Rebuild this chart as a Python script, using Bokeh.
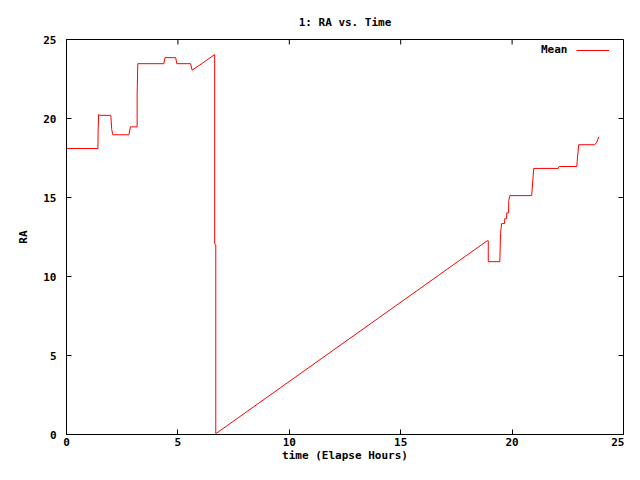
import math
from bokeh.plotting import figure
from bokeh.models import Range1d, FixedTicker, Legend, LegendItem, ColumnDataSource
from bokeh.embed import file_html
from bokeh.resources import INLINE

# Data
time_h = [0.0, 1.41, 1.42, 1.44, 1.50, 1.99, 2.03, 2.08, 2.80, 2.87, 3.17, 3.17, 3.20,
          4.37, 4.42, 4.90, 4.95, 5.57, 5.64, 6.10, 6.64, 6.65, 6.65, 6.70, 6.70,
          18.88, 18.93, 18.93, 19.45, 19.48, 19.53, 19.66, 19.67, 19.75, 19.76, 19.84,
          19.85, 19.90, 20.88, 20.97, 22.07, 22.11, 22.90, 22.99, 23.71, 23.80, 23.89]
ra = [18.10, 18.10, 19.20, 20.25, 20.20, 20.20, 19.30, 18.97, 18.97, 19.47, 19.47, 21.50, 23.47,
      23.47, 23.85, 23.85, 23.47, 23.47, 23.06, 23.50, 24.04, 24.04, 12.05, 12.00, 0.05,
      12.26, 12.26, 10.94, 10.94, 12.72, 13.35, 13.35, 13.66, 13.66, 14.03, 14.03,
      14.81, 15.12, 15.12, 16.84, 16.84, 16.96, 16.96, 18.34, 18.34, 18.50, 18.84]
x_ticks = [0, 5, 10, 15, 20, 25]
y_ticks = [0, 5, 10, 15, 20, 25]
x_max = 25
y_max = 25

FONT = "DejaVu Sans Mono"
FS = "11px"

p = figure(width=624, height=464, output_backend="svg", toolbar_location=None,
           x_range=Range1d(0, x_max), y_range=Range1d(0, y_max),
           min_border_left=66, min_border_right=1, min_border_top=39, min_border_bottom=29,
           title="1: RA vs. Time")
p.background_fill_color = "white"
p.border_fill_color = "white"
p.outline_line_color = "black"
p.outline_line_width = 1
p.grid.visible = False

p.title.align = "center"
p.title.text_font = FONT
p.title.text_font_size = FS
p.title.text_font_style = "bold"
p.title.text_color = "black"
p.title.standoff = 21

for ax, ticks in ((p.xaxis[0], x_ticks), (p.yaxis[0], y_ticks)):
    ax.ticker = FixedTicker(ticks=ticks)
    ax.major_tick_in = 5
    ax.major_tick_out = 0
    ax.minor_tick_line_color = None
    ax.axis_line_color = "black"
    ax.major_tick_line_color = "black"
    ax.major_label_text_font = FONT
    ax.major_label_text_font_size = FS
    ax.major_label_text_font_style = "bold"
    ax.major_label_text_color = "black"
    ax.axis_label_text_font = FONT
    ax.axis_label_text_font_size = FS
    ax.axis_label_text_font_style = "bold"
    ax.axis_label_text_color = "black"

p.xaxis[0].axis_label = "time (Elapse Hours)"
p.xaxis[0].major_label_standoff = 3
p.xaxis[0].axis_label_standoff = 0

p.yaxis[0].axis_label = "RA"
p.yaxis[0].major_label_standoff = 10
p.yaxis[0].axis_label_standoff = 10

# mirrored tick marks on the top and right edges of the frame
p.ray(x=x_ticks, y=[y_max] * len(x_ticks), length=5, length_units="screen",
      angle=-math.pi / 2, line_color="black", line_width=1)
p.ray(x=[x_max] * len(y_ticks), y=y_ticks, length=5, length_units="screen",
      angle=math.pi, line_color="black", line_width=1)

src = ColumnDataSource(data=dict(t=time_h, ra=ra))
r = p.line("t", "ra", source=src, line_color="#ff0000", line_width=1)

common = dict(border_line_color=None, background_fill_alpha=0, padding=0, margin=0,
              glyph_height=12, label_height=12, label_standoff=0,
              label_text_font=FONT, label_text_font_size=FS, label_text_font_style="bold",
              label_text_color="black")
# text part of the key (gnuplot puts the title left of the sample line)
legend_text = Legend(items=[LegendItem(label="Mean", renderers=[r])],
                     location=(475, 378), glyph_width=0, **common)
# sample line of the key
legend_line = Legend(items=[LegendItem(label=" ", renderers=[r])],
                     location=(510, 378), glyph_width=33, label_width=0, **common)
p.add_layout(legend_text, "center")
p.add_layout(legend_line, "center")

open("out.html", "w").write(file_html(p, INLINE))
